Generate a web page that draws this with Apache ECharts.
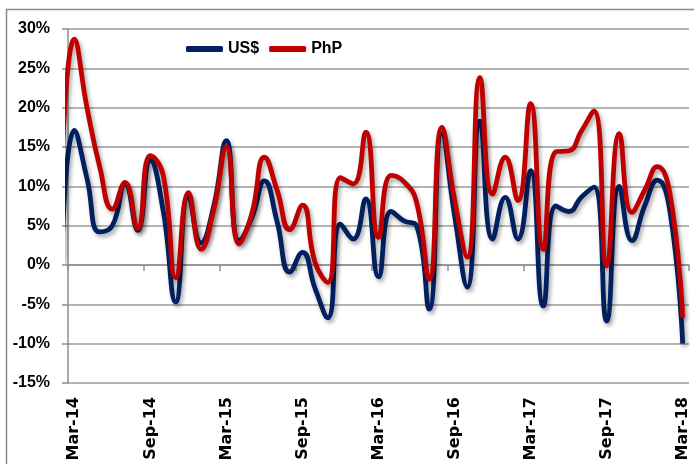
<!DOCTYPE html>
<html>
<head>
<meta charset="utf-8">
<script src="https://cdn.jsdelivr.net/npm/echarts@6/dist/echarts.min.js"></script>
<style>
html,body{margin:0;padding:0;background:#fff;}
#chart{width:694px;height:464px;}
</style>
</head>
<body>
<div id="chart"></div>
<script>
// Categories (monthly, Mar-14 .. Mar-18)
const months = ['Mar-14','Apr-14','May-14','Jun-14','Jul-14','Aug-14','Sep-14','Oct-14','Nov-14','Dec-14',
  'Jan-15','Feb-15','Mar-15','Apr-15','May-15','Jun-15','Jul-15','Aug-15','Sep-15','Oct-15','Nov-15','Dec-15',
  'Jan-16','Feb-16','Mar-16','Apr-16','May-16','Jun-16','Jul-16','Aug-16','Sep-16','Oct-16','Nov-16','Dec-16',
  'Jan-17','Feb-17','Mar-17','Apr-17','May-17','Jun-17','Jul-17','Aug-17','Sep-17','Oct-17','Nov-17','Dec-17',
  'Jan-18','Feb-18','Mar-18'];
// Growth, % (US$ terms)
const usd = [17.1, 11.0, 4.2, 5.0, 10.3, 4.4, 13.3, 7.0, -4.7, 8.8,
  2.8, 7.5, 15.8, 3.1, 6.0, 10.7, 5.5, -0.9, 1.6, -3.0, -6.7, 5.2,
  3.3, 8.4, -1.5, 6.8, 5.6, 5.0, -5.6, 16.7, 6.3, -2.8, 18.3, 3.3,
  8.6, 3.3, 12.0, -5.2, 7.5, 6.8, 8.6, 9.9, -7.1, 10.0, 3.1, 7.5,
  10.8, 6.8, -10.0];
// Growth, % (PhP terms)
const php = [28.7, 20.0, 12.5, 7.1, 10.5, 4.6, 13.9, 11.5, -1.6, 9.2,
  2.0, 7.0, 15.0, 2.7, 6.5, 13.7, 9.5, 4.5, 7.6, 0.3, -2.2, 11.1,
  10.3, 16.9, 3.5, 11.4, 10.6, 8.0, -1.8, 17.5, 8.3, 1.0, 23.8, 9.0,
  13.7, 8.2, 20.5, 2.0, 14.4, 14.5, 17.0, 19.6, -0.1, 16.7, 6.7, 9.5,
  12.5, 9.0, -6.7];
// Preceding month (Feb-14), only its lead-in segment is visible at the axis edge
const priorLabel = 'Feb-14';
const usdPrior = 0.5;
const phpPrior = 11.5;
// Value-axis ticks
const yMin = -15, yMax = 30, yStep = 5;

const toPairs = (prior, arr) => [[-1, prior]].concat(arr.map((v, i) => [i, v]));

const chart = echarts.init(document.getElementById('chart'), null, {renderer: 'canvas'});
const labelFont = {fontFamily: 'Liberation Sans, Arial, sans-serif', fontWeight: 'bold', color: '#000'};
const gray = '#8f8f8f';
const shadow = {shadowColor: 'rgba(0,0,0,0.35)', shadowBlur: 4, shadowOffsetX: 2, shadowOffsetY: 3};

chart.setOption({
  animation: false,
  backgroundColor: '#fff',
  graphic: [{
    type: 'rect', left: 4, top: 7, silent: true,
    shape: {width: 720, height: 480},
    style: {fill: 'none', stroke: '#8a8a8a', lineWidth: 1.5}
  }],
  grid: {left: 68, right: 5, top: 29, bottom: 81, containLabel: false},
  legend: {
    left: 186, top: 41, padding: 0, itemGap: 10,
    itemWidth: 37, itemHeight: 6, icon: 'roundRect',
    textStyle: Object.assign({fontSize: 16}, labelFont),
    data: ['US$', 'PhP']
  },
  xAxis: [{
    type: 'category', data: months, position: 'bottom', boundaryGap: true,
    axisLine: {show: false, onZero: false},
    axisTick: {show: false},
    axisLabel: {rotate: 90, interval: 5, margin: 14, fontSize: 16,
      fontFamily: 'DejaVu Sans, sans-serif', fontWeight: 'bold', color: '#000'},
    splitLine: {show: false}
  }, {
    type: 'category', data: months, position: 'bottom', boundaryGap: true,
    axisLine: {show: true, onZero: true, lineStyle: {color: gray, width: 1.5}},
    axisTick: {show: true, interval: 5, length: 6, inside: false, lineStyle: {color: gray, width: 1.5}},
    axisLabel: {show: false},
    splitLine: {show: false}
  }, {
    type: 'value', show: false, min: -0.5, max: months.length - 0.5
  }],
  yAxis: {
    type: 'value', min: yMin, max: yMax, interval: yStep, position: 'left',
    axisLine: {show: true, onZero: false, lineStyle: {color: gray, width: 1.5}},
    axisTick: {show: true, length: 6, lineStyle: {color: gray, width: 1.5}},
    axisLabel: Object.assign({fontSize: 16, margin: 18, formatter: '{value}%'}, labelFont),
    splitLine: {show: true, lineStyle: {color: '#9c9c9c', width: 1.5}}
  },
  series: [{
    name: 'US$', type: 'line', xAxisIndex: 2, data: toPairs(usdPrior, usd),
    smooth: 0.5, showSymbol: false, clip: true, z: 2,
    lineStyle: Object.assign({color: '#002060', width: 4.8}, shadow),
    itemStyle: {color: '#002060'}
  }, {
    name: 'PhP', type: 'line', xAxisIndex: 2, data: toPairs(phpPrior, php),
    smooth: 0.5, showSymbol: false, clip: true, z: 3,
    lineStyle: Object.assign({color: '#C00000', width: 4.8}, shadow),
    itemStyle: {color: '#C00000'}
  }]
});
</script>
</body>
</html>
